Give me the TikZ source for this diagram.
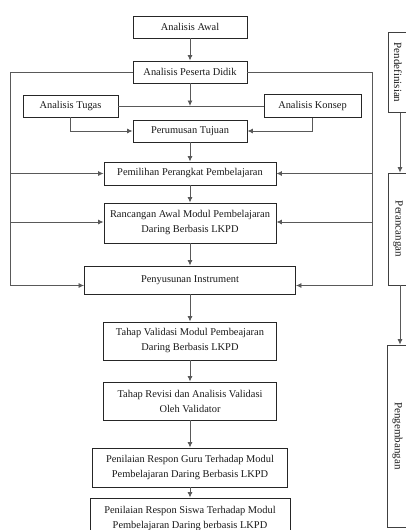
\documentclass[tikz,border=0pt]{standalone}
\usepackage{fontspec}
\setmainfont{Liberation Serif}
\usetikzlibrary{arrows.meta,calc}
\begin{document}
\begin{tikzpicture}[x=1pt,y=-1pt,
  box/.style={draw=black!85, line width=0.9pt, inner sep=0pt, align=center,
    font=\fontsize{10.4}{15}\selectfont, text=black!90},
  phase/.style={draw=black!75, line width=0.8pt, inner sep=0pt,
    font=\fontsize{11}{13}\selectfont, text=black!90},
  conn/.style={draw=black!65, line width=0.8pt},
  arr/.style={conn, -{Latex[length=5.5pt,width=5pt]}}]
\useasboundingbox (0,0) rectangle (405,530);

% main column
\node[box, minimum width=114, minimum height=22] (awal) at (190,27) {Analisis Awal};
\node[box, minimum width=114, minimum height=22] (peserta) at (190,72) {Analisis Peserta Didik};
\node[box, minimum width=95, minimum height=22] (tugas) at (70.5,106) {Analisis Tugas};
\node[box, minimum width=97, minimum height=23] (konsep) at (312.5,106) {Analisis Konsep};
\node[box, minimum width=114, minimum height=22] (tujuan) at (190,131) {Perumusan Tujuan};
\node[box, minimum width=172, minimum height=23] (pemilihan) at (190,173.5) {Pemilihan Perangkat Pembelajaran};
\node[box, minimum width=172, minimum height=40] (rancangan) at (190,223) {Rancangan Awal Modul Pembelajaran\\Daring Berbasis LKPD};
\node[box, minimum width=211, minimum height=28] (penyusunan) at (190,280) {Penyusunan Instrument};
\node[box, minimum width=173, minimum height=38] (validasi) at (190,341) {Tahap Validasi Modul Pembeajaran\\Daring Berbasis LKPD};
\node[box, minimum width=173, minimum height=38] (revisi) at (190,401) {Tahap Revisi dan Analisis Validasi\\Oleh Validator};
\node[box, minimum width=195, minimum height=39] (guru) at (190,467.5) {Penilaian Respon Guru Terhadap Modul\\Pembelajaran Daring Berbasis LKPD};
\node[box, minimum width=200, minimum height=42] (siswa) at (190,519) {Penilaian Respon Siswa Terhadap Modul\\Pembelajaran Daring berbasis LKPD};

% phases column
\node[phase, minimum width=20, minimum height=80] (def) at (398,72.5) {\rotatebox{-90}{Pendefinisian}};
\node[phase, minimum width=20, minimum height=112] (ranc) at (398,229) {\rotatebox{-90}{Perancangan}};
\node[phase, minimum width=21, minimum height=182] (kemb) at (397.5,436) {\rotatebox{-90}{Pengembangan}};

% vertical flow
\coordinate (j) at (190,106);
\draw[arr] (awal) -- (peserta);
\draw[arr] (peserta) -- (j);
\draw[conn] (tugas) -- (konsep);
\draw[arr] (tugas.south) |- (tujuan.west);
\draw[arr] (konsep.south) |- (tujuan.east);
\draw[arr] (tujuan) -- (pemilihan);
\draw[arr] (pemilihan) -- (rancangan);
\draw[arr] (rancangan) -- (penyusunan);
\draw[arr] (penyusunan) -- (validasi);
\draw[arr] (validasi) -- (revisi);
\draw[arr] (revisi) -- (guru);
\draw[arr] (guru) -- (siswa);

% left loop
\coordinate (lt) at (10,72);
\coordinate (lb) at (10,285.5);
\coordinate (l1) at (10,173.5);
\coordinate (l2) at (10,222);
\draw[arr] (peserta.west) -- (lt) -- (lb) -- (lb -| penyusunan.west);
\draw[arr] (l1) -- (pemilihan.west);
\draw[arr] (l2) -- (l2 -| rancangan.west);

% right loop
\coordinate (rt) at (372,72);
\coordinate (rb) at (372,285.5);
\coordinate (r1) at (372,173.5);
\coordinate (r2) at (372,222);
\draw[arr] (peserta.east) -- (rt) -- (rb) -- (rb -| penyusunan.east);
\draw[arr] (r1) -- (pemilihan.east);
\draw[arr] (r2) -- (r2 -| rancangan.east);

% phase arrows
\draw[arr] ($(def.south)+(2,0)$) -- ($(ranc.north)+(2,0)$);
\draw[arr] ($(ranc.south)+(2,0)$) -- ($(kemb.north)+(2.5,0)$);
\end{tikzpicture}
\end{document}
